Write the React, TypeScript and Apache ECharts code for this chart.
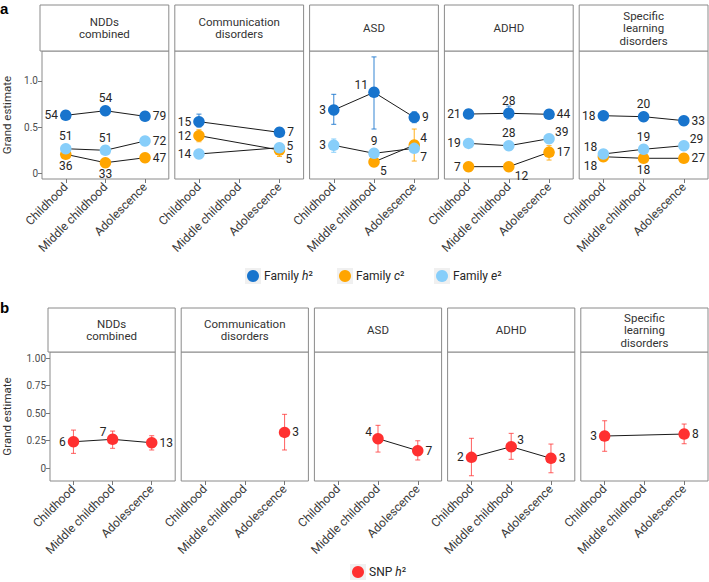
import React, { useEffect, useRef } from "react";
import * as echarts from "echarts";

const disorders = ["NDDs\ncombined", "Communication\ndisorders", "ASD", "ADHD", "Specific\nlearning\ndisorders"];
const stages = ["Childhood", "Middle childhood", "Adolescence"];

// Family h2 (per disorder: Childhood, Middle childhood, Adolescence)
const h2Est = [[0.627, 0.677, 0.616], [0.558, null, 0.442], [0.685, 0.877, 0.605], [0.641, 0.649, 0.638], [0.623, 0.612, 0.569]];
const h2Lo = [[0.61, 0.66, 0.6], [0.5, null, 0.4], [0.529, 0.478, 0.547], [0.62, 0.587, 0.62], [0.6, 0.57, 0.55]];
const h2Hi = [[0.645, 0.695, 0.632], [0.64, null, 0.49], [0.855, 1.262, 0.666], [0.66, 0.728, 0.655], [0.645, 0.655, 0.59]];
const h2N = [[54, 54, 79], [15, null, 7], [3, 11, 9], [21, 28, 44], [18, 20, 33]];

// Family c2
const c2Est = [[0.203, 0.112, 0.166], [0.406, null, 0.25], [null, 0.12, 0.304], [0.069, 0.069, 0.225], [0.177, 0.16, 0.16]];
const c2Lo = [[0.19, 0.1, 0.15], [0.34, null, 0.18], [null, 0.09, 0.13], [0.035, 0.05, 0.141], [0.16, 0.145, 0.145]];
const c2Hi = [[0.215, 0.125, 0.18], [0.47, null, 0.3], [null, 0.15, 0.478], [0.1, 0.09, 0.297], [0.19, 0.175, 0.175]];
const c2N = [[36, 33, 47], [12, null, 5], [null, 5, 4], [7, 12, 17], [18, 18, 27]];

// Family e2
const e2Est = [[0.264, 0.247, 0.348], [0.207, null, 0.275], [0.301, 0.214, 0.268], [0.322, 0.297, 0.373], [0.207, 0.258, 0.297]];
const e2Lo = [[0.25, 0.235, 0.335], [0.195, null, 0.26], [0.225, 0.195, 0.25], [0.31, 0.285, 0.36], [0.195, 0.245, 0.285]];
const e2Hi = [[0.278, 0.26, 0.36], [0.22, null, 0.29], [0.37, 0.235, 0.285], [0.335, 0.31, 0.385], [0.22, 0.27, 0.31]];
const e2N = [[51, 51, 72], [14, null, 5], [3, 9, 7], [19, 28, 39], [18, 19, 29]];

// SNP h2
const snpEst = [[0.239, 0.261, 0.23], [null, null, 0.324], [null, 0.267, 0.158], [0.097, 0.194, 0.088], [0.291, null, 0.309]];
const snpLo = [[0.133, 0.179, 0.164], [null, null, 0.164], [null, 0.145, 0.073], [-0.07, 0.079, -0.043], [0.152, null, 0.221]];
const snpHi = [[0.345, 0.336, 0.294], [null, null, 0.488], [null, 0.388, 0.248], [0.27, 0.315, 0.218], [0.43, null, 0.4]];
const snpN = [[6, 7, 13], [null, null, 3], [null, 4, 7], [2, 3, 3], [3, null, 8]];

// label placement codes
const h2Pos = [["L", "T", "R"], ["L", null, "R"], ["L", "TL", "R"], ["L", "T", "R"], ["L", "T", "R"]];
const c2Pos = [["B", "B", "R"], ["L", null, "BR"], [null, "BR", "TR"], ["L", "BR", "R"], ["BL", "B", "R"]];
const e2Pos = [["T", "T", "R"], ["L", null, "RU"], ["L", "T", "BR"], ["L", "T", "TR"], ["TL", "T", "TR"]];
const snpPos = [["L", "TL", "R"], [null, null, "R"], [null, "TL", "R"], ["L", "TR", "R"], ["L", null, "R"]];

const FONT = "Roboto, 'Noto Sans', sans-serif";
const TEXT = "#262626";

function labelCfg(code: string) {
  switch (code) {
    case "L": return { position: "left", distance: 2 };
    case "R": return { position: "right", distance: 2 };
    case "T": return { position: "top", distance: 1 };
    case "B": return { position: "bottom", distance: 0 };
    case "RU": return { position: "inside", align: "left", verticalAlign: "middle", offset: [7, -2] };
    case "TR": return { position: "inside", align: "left", verticalAlign: "middle", offset: [6, -7] };
    case "BR": return { position: "inside", align: "left", verticalAlign: "middle", offset: [6, 9] };
    case "TL": return { position: "inside", align: "right", verticalAlign: "middle", offset: [-6, -7] };
    case "BL": return { position: "inside", align: "right", verticalAlign: "middle", offset: [-6, 9] };
  }
  return { position: "right" };
}

function buildOption() {
  const groupsA = [
    { name: "Family h2", color: "#1874CD", err: "rgba(24,116,205,0.8)", est: h2Est, lo: h2Lo, hi: h2Hi, n: h2N, pos: h2Pos },
    { name: "Family c2", color: "#FFA500", err: "rgba(255,165,0,0.8)", est: c2Est, lo: c2Lo, hi: c2Hi, n: c2N, pos: c2Pos },
    { name: "Family e2", color: "#87CEFA", err: "rgba(135,206,250,0.9)", est: e2Est, lo: e2Lo, hi: e2Hi, n: e2N, pos: e2Pos },
  ];
  const groupsB = [
    { name: "SNP h2", color: "#FF3030", err: "rgba(255,48,48,0.7)", est: snpEst, lo: snpLo, hi: snpHi, n: snpN, pos: snpPos },
  ];
  const rows = [
    { stripTop: 5, stripBottom: 51, plotBottom: 179, left0: 40, yMin: -0.065, yMax: 1.326, ticks: [0, 0.5, 1], dec: 1, nameGap: 29, groups: groupsA },
    { stripTop: 308, stripBottom: 352, plotBottom: 481, left0: 48, yMin: -0.118, yMax: 1.055, ticks: [0, 0.25, 0.5, 0.75, 1], dec: 2, nameGap: 37, groups: groupsB },
  ];

  const grid: any[] = [];
  const xAxis: any[] = [];
  const yAxis: any[] = [];
  const series: any[] = [];
  const graphic: any[] = [];

  rows.forEach((row, r) => {
    const w = (708 - row.left0 - 24) / 5;
    disorders.forEach((dis, p) => {
      const gi = r * 5 + p;
      const left = row.left0 + p * (w + 6);
      grid.push({ left, top: row.stripBottom, width: w, height: row.plotBottom - row.stripBottom, show: true, borderColor: "#8a8a8a", borderWidth: 1, backgroundColor: "transparent" });
      graphic.push({
        type: "rect", z: 10,
        shape: { x: left, y: row.stripTop, width: w, height: row.stripBottom - row.stripTop },
        style: { fill: "#fff", stroke: "#8a8a8a", lineWidth: 1 },
      });
      graphic.push({
        type: "text", z: 11,
        x: left + w / 2, y: (row.stripTop + row.stripBottom) / 2,
        style: { text: dis, align: "center", verticalAlign: "middle", fontSize: 11.5, lineHeight: 12.5, fontFamily: FONT, fill: "#333" },
      });
      xAxis.push({
        gridIndex: gi, type: "value", min: -0.6, max: 2.6,
        splitLine: { show: false }, axisLine: { show: false, onZero: false },
        axisTick: { show: true, customValues: [0, 1, 2], length: 4, lineStyle: { color: "#777" } },
        axisLabel: { customValues: [0, 1, 2], formatter: (v: number) => stages[Math.round(v)], rotate: 45, fontSize: 12, color: "#3b3b3b", fontFamily: FONT, margin: 6 },
      });
      yAxis.push({
        gridIndex: gi, type: "value", min: row.yMin, max: row.yMax,
        splitLine: { show: false }, axisLine: { show: false, onZero: false },
        axisTick: { show: p === 0, customValues: row.ticks, length: 4, lineStyle: { color: "#777" } },
        axisLabel: { show: p === 0, customValues: row.ticks, formatter: (v: number) => (v === 0 ? "0" : v.toFixed(row.dec)), fontSize: 10, color: "#4d4d4d", fontFamily: FONT, margin: 4 },
        name: p === 0 ? "Grand estimate" : "", nameLocation: "middle", nameGap: row.nameGap,
        nameTextStyle: { fontSize: 11.5, color: "#333", fontFamily: FONT },
      });
      row.groups.forEach((g) => {
        const idx = [0, 1, 2].filter((i) => g.est[p][i] !== null);
        series.push({
          type: "custom", name: g.name + " CI", xAxisIndex: gi, yAxisIndex: gi, z: 1,
          data: idx.map((i) => [i, g.est[p][i], g.lo[p][i], g.hi[p][i]]),
          encode: { x: 0, y: 1 },
          renderItem: (params: any, api: any) => {
            const x = api.value(0);
            const a = api.coord([x, api.value(2)]);
            const b = api.coord([x, api.value(3)]);
            const st = { stroke: g.err, lineWidth: 1.1 };
            return {
              type: "group",
              children: [
                { type: "line", shape: { x1: a[0], y1: a[1], x2: b[0], y2: b[1] }, style: st },
                { type: "line", shape: { x1: a[0] - 2.5, y1: a[1], x2: a[0] + 2.5, y2: a[1] }, style: st },
                { type: "line", shape: { x1: b[0] - 2.5, y1: b[1], x2: b[0] + 2.5, y2: b[1] }, style: st },
              ],
            };
          },
        });
        series.push({
          type: "line", name: g.name + " line", xAxisIndex: gi, yAxisIndex: gi, z: 2,
          data: idx.map((i) => [i, g.est[p][i]]),
          symbol: "none", lineStyle: { color: "#1a1a1a", width: 1 }, silent: true,
        });
        series.push({
          type: "scatter", name: g.name, xAxisIndex: gi, yAxisIndex: gi, z: 3,
          symbol: "circle", symbolSize: 11.5, itemStyle: { color: g.color, opacity: 1 },
          data: idx.map((i) => ({
            value: [i, g.est[p][i]],
            label: { show: true, ...labelCfg(g.pos[p][i] as string), formatter: String(g.n[p][i]), fontSize: 12, color: TEXT, fontFamily: FONT },
          })),
        });
      });
    });
  });

  graphic.push({ type: "text", x: 0, y: 1, style: { text: "a", fontSize: 15, fontWeight: "bold", fontFamily: "Arial, 'Liberation Sans', sans-serif", fill: "#000" } });
  graphic.push({ type: "text", x: 0, y: 300, style: { text: "b", fontSize: 15, fontWeight: "bold", fontFamily: "Arial, 'Liberation Sans', sans-serif", fill: "#000" } });

  const legendText = { fontSize: 12, lineHeight: 14, color: TEXT, fontFamily: FONT, rich: { i: { fontStyle: "italic", fontSize: 12, lineHeight: 14, fontFamily: FONT, color: TEXT } } };
  const fmt = (name: string) => {
    const parts = name.split(" ");
    const sym = parts[1];
    return parts[0] + " {i|" + sym[0] + "}" + "\u00B2";
  };

  // legend key positions (icon centres)
  const keysA = [{ cx: 253, cy: 276 }, { cx: 345, cy: 276 }, { cx: 442, cy: 276 }];
  const keysB = [{ cx: 358, cy: 572 }];
  const legend: any[] = [];
  const addLegend = (groups: any[], keys: any[]) => {
    groups.forEach((g, k) => {
      const key = keys[k];
      graphic.push({ type: "rect", z: 0, shape: { x: key.cx - 8, y: key.cy - 8, width: 16, height: 16 }, style: { fill: "#f0f0f0" } });
      legend.push({
        data: [{ name: g.name, icon: "circle" }],
        left: key.cx - 6, top: key.cy - 7, itemWidth: 12, itemHeight: 12, itemGap: 0, padding: 0,
        formatter: fmt, textStyle: legendText, selectedMode: false,
      });
    });
  };
  addLegend(groupsA, keysA);
  addLegend(groupsB, keysB);

  return {
    animation: false,
    grid, xAxis, yAxis, series, graphic, legend,
  };
}

export default function App() {
  const ref = useRef<HTMLDivElement>(null);
  useEffect(() => {
    const chart = echarts.init(ref.current!, null, { renderer: "svg" });
    chart.setOption(buildOption() as any);
    return () => chart.dispose();
  }, []);
  return <div ref={ref} style={{ position: "absolute", left: 0, top: 0, width: 709, height: 582 }} />;
}
